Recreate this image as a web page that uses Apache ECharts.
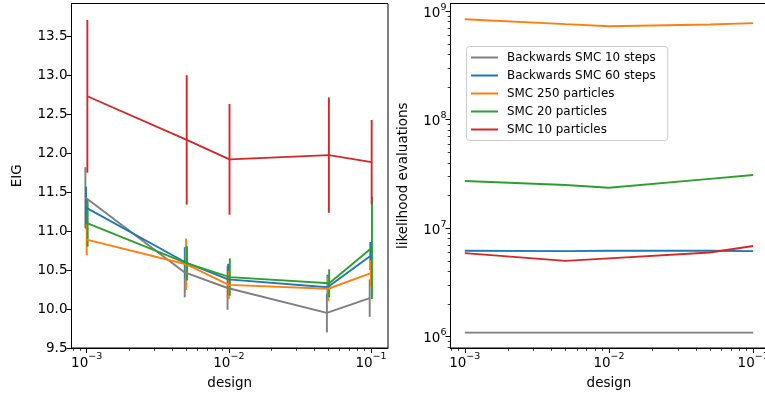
<!DOCTYPE html>
<html>
<head>
<meta charset="utf-8">
<script src="https://cdn.jsdelivr.net/npm/echarts@6/dist/echarts.min.js"></script>
<style>
  html, body { margin: 0; padding: 0; background: #fff; overflow: hidden; }
  #chart { width: 765px; height: 398px; }
</style>
</head>
<body>
<div id="chart"></div>
<script>
// ---- data -------------------------------------------------------------
const design = [0.001, 0.005, 0.01, 0.05, 0.1];
const methods = [
  'Backwards SMC 10 steps',
  'Backwards SMC 60 steps',
  'SMC 250 particles',
  'SMC 20 particles',
  'SMC 10 particles'
];
const colors = ['#7f7f7f', '#1f77b4', '#ff7f0e', '#2ca02c', '#d62728'];

// small horizontal spread of each method's points in the EIG panel
const designJitter = [0.979, 0.989, 1.0, 1.016, 1.011];

// expected information gain (mean) and error-bar half widths
const eigBwd10   = [11.43, 10.47, 10.27, 9.95, 10.14];
const eigBwd60   = [11.30, 10.60, 10.38, 10.28, 10.68];
const eigSmc250  = [10.89, 10.575, 10.31, 10.26, 10.46];
const eigSmc20   = [11.10, 10.585, 10.41, 10.33, 10.785];
const eigSmc10   = [12.73, 12.17, 11.92, 11.975, 11.885];

const errBwd10   = [0.39, 0.32, 0.28, 0.25, 0.24];
const errBwd60   = [0.27, 0.20, 0.20, 0.16, 0.18];
const errSmc250  = [0.20, 0.33, 0.18, 0.16, 0.17];
const errSmc20   = [0.30, 0.22, 0.24, 0.18, 0.655];
const errSmc10   = [0.98, 0.83, 0.71, 0.74, 0.54];

// number of likelihood evaluations
const evalBwd10  = [1.09e6, 1.09e6, 1.09e6, 1.09e6, 1.09e6];
const evalBwd60  = [6.2e6, 6.15e6, 6.2e6, 6.2e6, 6.15e6];
const evalSmc250 = [8.44e8, 7.6e8, 7.28e8, 7.55e8, 7.76e8];
const evalSmc20  = [2.72e7, 2.5e7, 2.36e7, 2.85e7, 3.09e7];
const evalSmc10  = [5.89e6, 5.0e6, 5.27e6, 5.98e6, 6.85e6];

// tick labels
const eigTicks = [9.5, 10.0, 10.5, 11.0, 11.5, 12.0, 12.5, 13.0, 13.5];
const designTicks = [1e-3, 1e-2, 1e-1];
const evalTicks = [1e6, 1e7, 1e8, 1e9];

const eigMeans = [eigBwd10, eigBwd60, eigSmc250, eigSmc20, eigSmc10];
const eigErrs = [errBwd10, errBwd60, errSmc250, errSmc20, errSmc10];
const evals = [evalBwd10, evalBwd60, evalSmc250, evalSmc20, evalSmc10];

// ---- helpers ----------------------------------------------------------
const FONT = 'DejaVu Sans';
const TICK_FS = 13.5;
const LINE_W = 1.9;

function minorLogTicks(lo, hi) {
  const out = [];
  for (let e = Math.floor(Math.log10(lo)) - 1; e <= Math.ceil(Math.log10(hi)); e++) {
    for (let k = 2; k <= 9; k++) {
      const v = k * Math.pow(10, e);
      if (v >= lo && v <= hi) out.push(v);
    }
  }
  return out;
}

function powLabel(v) {
  const e = Math.round(Math.log10(v));
  return '{b|10}{s|' + (e < 0 ? '\u2212' : '') + Math.abs(e) + '}';
}
const powRich = {
  b: { fontFamily: FONT, fontSize: TICK_FS, color: '#000', lineHeight: 18, verticalAlign: 'bottom' },
  s: { fontFamily: FONT, fontSize: 9.5, color: '#000', lineHeight: 11, verticalAlign: 'top' }
};

const leftX = [7.82e-4, 0.1317];
const rightX = [7.96e-4, 0.1257];
const rightY = [7.87e5, 1.178e9];

const axisLineStyle = { lineStyle: { color: '#000', width: 1 } };

function majorLogX(gridIndex, ext) {
  return {
    type: 'log', gridIndex, position: 'bottom', min: ext[0], max: ext[1],
    axisLine: axisLineStyle,
    axisTick: { show: true, length: 5, lineStyle: { color: '#000', width: 1 }, customValues: designTicks },
    axisLabel: { customValues: designTicks, formatter: powLabel, rich: powRich, margin: 4 },
    splitLine: { show: false },
    name: 'design', nameLocation: 'middle', nameGap: 28,
    nameTextStyle: { fontFamily: FONT, fontSize: TICK_FS, color: '#000' }
  };
}
function minorLogX(gridIndex, ext) {
  return {
    type: 'log', gridIndex, position: 'bottom', min: ext[0], max: ext[1],
    axisLine: { show: false },
    axisTick: { show: true, length: 2.8, lineStyle: { color: '#000', width: 0.8 }, customValues: minorLogTicks(ext[0], ext[1]) },
    axisLabel: { show: false },
    splitLine: { show: false }
  };
}

// ---- series -----------------------------------------------------------
const series = [];
methods.forEach((name, s) => {
  const xs = design.map(d => d * designJitter[s]);
  series.push({
    name, type: 'line', xAxisIndex: 0, yAxisIndex: 0,
    data: xs.map((x, i) => [x, eigMeans[s][i]]),
    showSymbol: false, symbol: 'none',
    lineStyle: { color: colors[s], width: LINE_W },
    itemStyle: { color: colors[s] },
    silent: true
  });
  series.push({
    name: name + ' error', type: 'custom', xAxisIndex: 0, yAxisIndex: 0,
    data: xs.map((x, i) => [x, eigMeans[s][i] - eigErrs[s][i], eigMeans[s][i] + eigErrs[s][i]]),
    encode: { x: 0, y: [1, 2] },
    renderItem: (params, api) => {
      const a = api.coord([api.value(0), api.value(1)]);
      const b = api.coord([api.value(0), api.value(2)]);
      return {
        type: 'line',
        shape: { x1: a[0], y1: a[1], x2: b[0], y2: b[1] },
        style: { stroke: colors[s], lineWidth: LINE_W }
      };
    },
    silent: true
  });
});
methods.forEach((name, s) => {
  series.push({
    name, type: 'line', xAxisIndex: 2, yAxisIndex: 1,
    data: design.map((x, i) => [x, evals[s][i]]),
    showSymbol: false, symbol: 'none',
    lineStyle: { color: colors[s], width: LINE_W },
    itemStyle: { color: colors[s] },
    silent: true
  });
});

// ---- chart ------------------------------------------------------------
const chart = echarts.init(document.getElementById('chart'), null, { renderer: 'canvas' });
chart.setOption({
  animation: false,
  backgroundColor: '#fff',
  textStyle: { fontFamily: FONT },
  grid: [
    { left: 71.5, top: 3.5, right: 377, bottom: 50, show: true, borderColor: '#000', borderWidth: 1,
      containLabel: false, outerBoundsMode: 'none' },
    { left: 450.5, top: 3.5, width: 317, bottom: 50, show: true, borderColor: '#000', borderWidth: 1,
      containLabel: false, outerBoundsMode: 'none' }
  ],
  xAxis: [
    majorLogX(0, leftX),
    minorLogX(0, leftX),
    majorLogX(1, rightX),
    minorLogX(1, rightX)
  ],
  yAxis: [
    {
      type: 'value', gridIndex: 0, position: 'left', min: 9.5, max: 13.92,
      axisLine: { show: true, lineStyle: { color: '#000', width: 1 } },
      axisTick: { show: true, length: 5, lineStyle: { color: '#000', width: 1 }, customValues: eigTicks },
      axisLabel: {
        customValues: eigTicks, margin: 4,
        formatter: v => v.toFixed(1),
        fontFamily: FONT, fontSize: TICK_FS, color: '#000'
      },
      splitLine: { show: false },
      name: 'EIG', nameLocation: 'middle', nameGap: 47, nameRotate: 90,
      nameTextStyle: { fontFamily: FONT, fontSize: TICK_FS, color: '#000' }
    },
    {
      type: 'log', gridIndex: 1, position: 'left', min: rightY[0], max: rightY[1],
      axisLine: { show: true, lineStyle: { color: '#000', width: 1 } },
      axisTick: { show: true, length: 5, lineStyle: { color: '#000', width: 1 }, customValues: evalTicks },
      axisLabel: { customValues: evalTicks, formatter: powLabel, rich: powRich, margin: 4 },
      splitLine: { show: false },
      name: 'likelihood evaluations', nameLocation: 'middle', nameGap: 40, nameRotate: 90,
      nameTextStyle: { fontFamily: FONT, fontSize: TICK_FS, color: '#000' }
    },
    {
      type: 'log', gridIndex: 1, position: 'left', offset: 0, min: rightY[0], max: rightY[1],
      axisLine: { show: false },
      axisTick: { show: true, length: 2.8, lineStyle: { color: '#000', width: 0.8 }, customValues: minorLogTicks(rightY[0], rightY[1]) },
      axisLabel: { show: false },
      splitLine: { show: false }
    }
  ],
  legend: {
    data: methods.map(n => ({ name: n, icon: 'rect' })),
    orient: 'vertical',
    left: 466.5, top: 46.5,
    itemWidth: 27, itemHeight: 2, itemGap: 6,
    padding: [5, 12, 5, 4.5],
    backgroundColor: 'rgba(255,255,255,0.8)',
    borderColor: '#cccccc', borderWidth: 1, borderRadius: 3,
    textStyle: { fontFamily: FONT, fontSize: 11.9, color: '#000', padding: [0, 0, 0, 4], lineHeight: 12 },
    selectedMode: false
  },
  series
});
</script>
</body>
</html>
